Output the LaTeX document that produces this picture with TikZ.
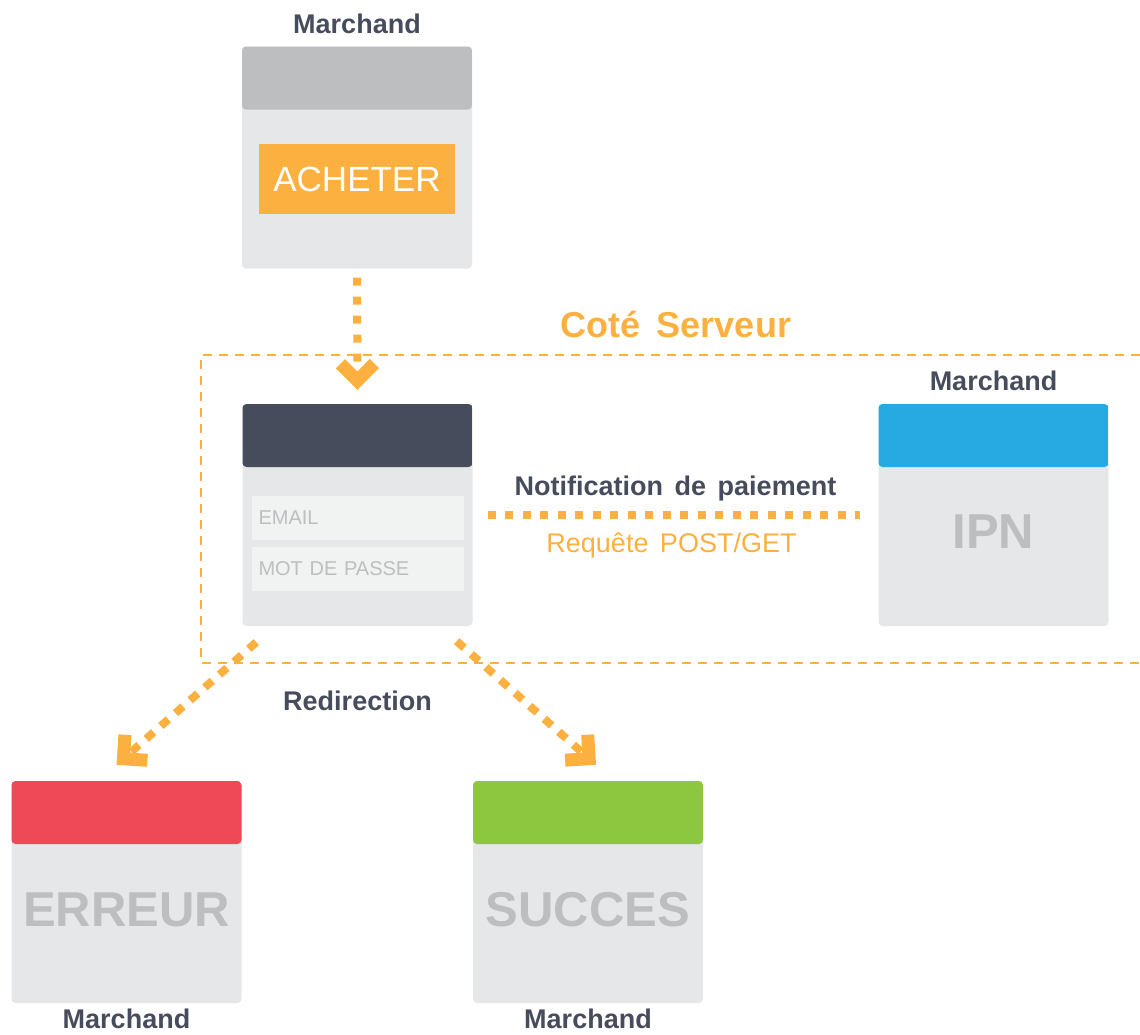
\documentclass[tikz,border=0pt]{standalone}
\usepackage{fontspec}
\setmainfont{Liberation Sans}
\usetikzlibrary{arrows.meta}

\definecolor{orng}{HTML}{FBB040}
\definecolor{ink}{HTML}{474C5C}
\definecolor{cardbg}{HTML}{E6E7E8}
\definecolor{fieldbg}{HTML}{F1F2F2}
\definecolor{greytxt}{HTML}{BCBEC0}
\definecolor{hdrgrey}{HTML}{BCBEC0}
\definecolor{hdrblue}{HTML}{27AAE1}
\definecolor{hdrred}{HTML}{EF4957}
\definecolor{hdrgreen}{HTML}{8DC63F}

\tikzset{
  card/.style={fill=cardbg, rounded corners=4pt, minimum width=230pt, minimum height=222pt, inner sep=0pt,
    path picture={\fill[#1] (path picture bounding box.north west) rectangle ([yshift=-63pt]path picture bounding box.north east);}},
  card/.default=hdrgrey,
  lbl/.style={text=ink, font=\bfseries\fontsize{27}{32}\selectfont},
  bigtxt/.style={text=greytxt, font=\bfseries\fontsize{49}{56}\selectfont},
  field/.style={fill=fieldbg, minimum width=212pt, minimum height=44pt, text width=198pt, inner sep=7pt,
    align=left, text=greytxt, font=\fontsize{20}{24}\selectfont},
  flow/.style={draw=orng, line width=8pt, dash pattern=on 8pt off 11pt,
    -{Straight Barb[length=17pt, width=34pt, line width=13pt]}},
}

\begin{document}
\begin{tikzpicture}[x=1pt, y=-1pt]
  \useasboundingbox (0,0) rectangle (1140,1034);

  % zone serveur
  \draw[orng, line width=2.5pt, dash pattern=on 9pt off 7pt] (1140,355) -- (201,355) -- (201,663) -- (1140,663);
  \node[text=orng, font=\bfseries\fontsize{36}{42}\selectfont, anchor=base] (zone) at (676,337) {Coté\hspace{6pt} Serveur};

  % cartes
  \node[card] (buy) at (357,157.5) {};
  \node[fill=orng, minimum width=196pt, minimum height=70pt, text=white, font=\fontsize{35}{40}\selectfont] (btn) at ([yshift=-21.5pt]buy.center) {ACHETER};
  \node[lbl] at ([yshift=22pt]buy.north) {Marchand};

  \node[card=ink] (mid) at (357.5,515) {};
  \node[field] (email) at ([yshift=-2.5pt]mid.center) {EMAIL};
  \node[field] (pass) at ([yshift=-53.5pt]mid.center) {MOT DE PASSE};

  \node[card=hdrblue] (ipn) at (993.5,515) {};
  \node[bigtxt] at ([yshift=-17pt]ipn.center) {IPN};
  \node[lbl] at ([yshift=23pt]ipn.north) {Marchand};

  \node[card=hdrred] (err) at (126.5,892) {};
  \node[bigtxt] at ([yshift=-18pt]err.center) {ERREUR};
  \node[lbl] at ([yshift=-16pt]err.south) {Marchand};

  \node[card=hdrgreen] (ok) at (588,892) {};
  \node[bigtxt] at ([yshift=-18pt]ok.center) {SUCCES};
  \node[lbl] at ([yshift=-16pt]ok.south) {Marchand};

  % fleches
  \draw[flow, shorten <=9pt, shorten >=14pt] (buy.south) -- (mid.north);
  \draw[draw=orng, line width=8pt, dash pattern=on 8pt off 9.5pt, shorten <=15pt, shorten >=18pt] (mid.east) -- (ipn.west)
    node[midway, lbl, above=7pt] {Notification\hspace{4pt} de\hspace{4pt} paiement}
    node[midway, below=10pt, text=orng, font=\fontsize{27}{32}\selectfont, xshift=-4pt] {Requête\hspace{4pt} POST/GET};
  \draw[flow, dash pattern=on 10pt off 9.5pt] ([xshift=14pt,yshift=-16pt]mid.south west) -- ([xshift=-10pt,yshift=16pt]err.north);
  \draw[flow, dash pattern=on 10pt off 9.5pt] ([xshift=-16pt,yshift=-15pt]mid.south east) -- ([xshift=8pt,yshift=16pt]ok.north);
  \node[lbl] (redir) at ([yshift=-75pt]mid.south) {Redirection};
\end{tikzpicture}
\end{document}
